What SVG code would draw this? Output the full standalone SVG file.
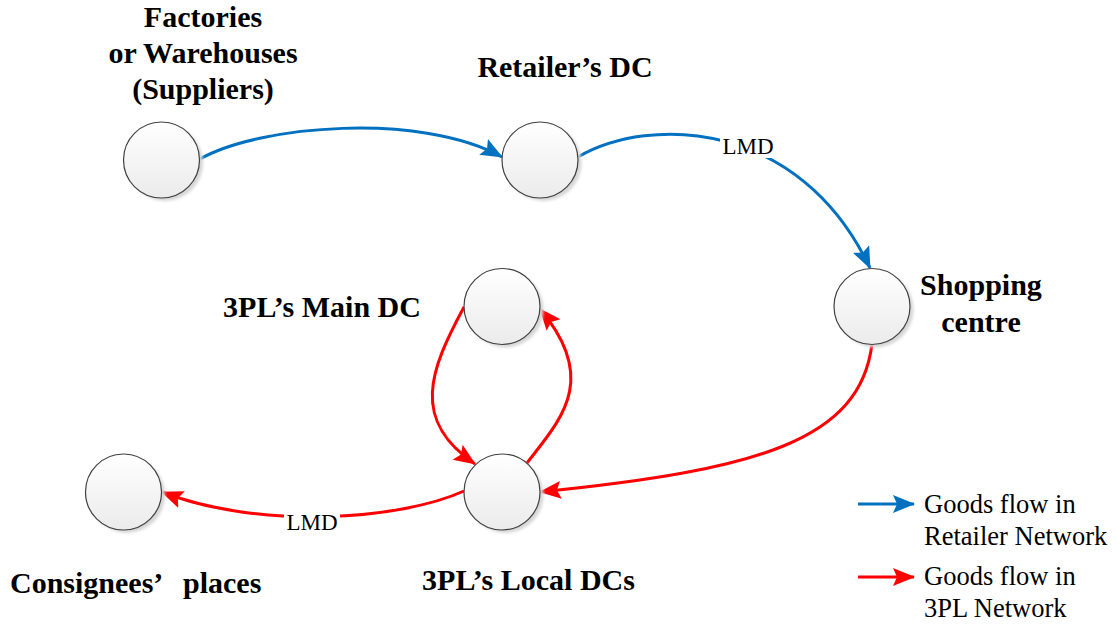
<svg xmlns="http://www.w3.org/2000/svg" width="1117" height="624" viewBox="0 0 1117 624">
<style>
.node{fill:url(#g);stroke:#404040;stroke-width:1.2}
.shadow{fill:#d6d6d6;filter:url(#blur)}
text{font-family:"Liberation Serif","Times New Roman",Times,"DejaVu Serif",serif;fill:#000}
.lbl{font-weight:bold;font-size:30px}
.sm{font-size:23px}
.lg{font-size:26.5px}
.blue{fill:none;stroke:#0070C0;stroke-width:3;marker-end:url(#ab)}
.red{fill:none;stroke:#FF0000;stroke-width:3;marker-end:url(#ar)}
</style>
<defs>
<linearGradient id="g" x1="0" y1="0" x2="0" y2="1">
<stop offset="0" stop-color="#ffffff"/>
<stop offset="1" stop-color="#ebebeb"/>
</linearGradient>
<filter id="blur" x="-20%" y="-20%" width="140%" height="140%"><feGaussianBlur stdDeviation="1.5"/></filter>
<marker id="ab" markerUnits="userSpaceOnUse" markerWidth="24" markerHeight="20" refX="21" refY="9" orient="auto">
<path d="M0,0 L22,9 L0,18 L4,9 z" fill="#0070C0"/>
</marker>
<marker id="ar" markerUnits="userSpaceOnUse" markerWidth="24" markerHeight="20" refX="21" refY="9" orient="auto">
<path d="M0,0 L22,9 L0,18 L4,9 z" fill="#FF0000"/>
</marker>
</defs>
<rect width="1117" height="624" fill="#ffffff"/>

<g id="connectors">
<path class="blue" d="M200,159 C260,125 420,112 502,157"/>
<path class="blue" d="M578,157 C650,115 800,120 870,268"/>
<path class="red" d="M872,344 C860,440 760,470 540,492"/>
<path class="red" d="M464,307 C430,370 410,420 475,464"/>
<path class="red" d="M527,463 C560,420 600,380 540,309"/>
<path class="red" d="M464,491 C400,520 260,530 162,492"/>
<rect x="720" y="133" width="56" height="25" fill="#ffffff"/>
<text class="sm" x="748" y="154" text-anchor="middle">LMD</text>
<rect x="284" y="509" width="56" height="25" fill="#ffffff"/>
<text class="sm" x="312" y="530" text-anchor="middle">LMD</text>
</g>

<g id="factories">
<circle class="shadow" cx="165" cy="163" r="38"/>
<circle class="node" cx="161.5" cy="160" r="38"/>
<text class="lbl" x="203" y="27" text-anchor="middle">Factories</text>
<text class="lbl" x="203" y="63" text-anchor="middle">or Warehouses</text>
<text class="lbl" x="203" y="99" text-anchor="middle">(Suppliers)</text>
</g>

<g id="retailer-dc">
<circle class="shadow" cx="543.5" cy="163" r="38"/>
<circle class="node" cx="540" cy="160" r="38"/>
<text class="lbl" x="565" y="77" text-anchor="middle">Retailer’s DC</text>
</g>

<g id="shopping-centre">
<circle class="shadow" cx="875.5" cy="309.5" r="38"/>
<circle class="node" cx="872" cy="306.5" r="38"/>
<text class="lbl" x="981" y="295" text-anchor="middle">Shopping</text>
<text class="lbl" x="981" y="332" text-anchor="middle">centre</text>
</g>

<g id="main-dc">
<circle class="shadow" cx="505.5" cy="309.5" r="38"/>
<circle class="node" cx="502" cy="306.5" r="38"/>
<text class="lbl" x="322" y="317" text-anchor="middle">3PL’s Main DC</text>
</g>

<g id="local-dcs">
<circle class="shadow" cx="505.5" cy="495" r="38"/>
<circle class="node" cx="502" cy="492" r="38"/>
<text class="lbl" x="528.5" y="590" text-anchor="middle">3PL’s Local DCs</text>
</g>

<g id="consignees">
<circle class="shadow" cx="127" cy="495" r="38"/>
<circle class="node" cx="123.5" cy="492" r="38"/>
<text class="lbl" x="10" y="593">Consignees’<tspan x="183">places</tspan></text>
</g>

<g id="legend">
<line class="blue" x1="858" y1="504" x2="914" y2="504"/>
<text class="lg" x="924" y="513">Goods flow in</text>
<text class="lg" x="924" y="545">Retailer Network</text>
<line class="red" x1="858" y1="577" x2="914" y2="577"/>
<text class="lg" x="924" y="585">Goods flow in</text>
<text class="lg" x="924" y="617">3PL Network</text>
</g>
</svg>
